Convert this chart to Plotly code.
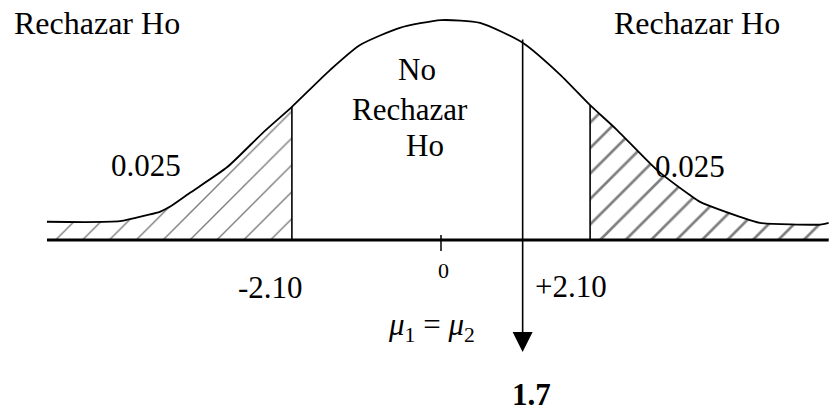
import plotly.graph_objects as go

# ---------------- data ----------------
# schematic bell curve: z position and relative density (as drawn)
curve_z = [-5.55, -4.52, -4.14, -3.96, -3.82, -3.54, -3.01, -2.51, -2.10, -1.56,
           -1.14, -0.58, 0.00, 0.55, 1.15, 1.68, 2.10, 2.48, 3.04, 3.51,
           3.65, 4.21, 4.49, 5.34, 5.46]
curve_d = [0.033, 0.034, 0.045, 0.051, 0.060, 0.085, 0.132, 0.194, 0.241, 0.308,
           0.353, 0.384, 0.398, 0.393, 0.357, 0.299, 0.244, 0.199, 0.127, 0.081,
           0.069, 0.042, 0.031, 0.028, 0.031]
crit_values = [-2.10, 2.10]
crit_labels = ["-2.10", "+2.10"]
tail_alpha = ["0.025", "0.025"]
center_label = "0"
stat_label = "1.7"
stat_drawn_z = 1.15          # where the statistic arrow is drawn (schematic)
region_labels = ["Rechazar Ho", "Rechazar Ho"]
accept_lines = ["No", "Rechazar", "Ho"]
hyp_label = "<i>μ</i><sub>1</sub> = <i>μ</i><sub>2</sub>"

# ---------------- geometry helpers (pixel <-> data) ----------------
W, H = 829, 411
PX0, PXU = 441.0, 71.0       # pixel of z=0, pixels per z unit
PY0, PYU = 240.0, 552.5      # pixel of d=0, pixels per density unit


def zx(px):
    return (px - PX0) / PXU


def dy(py):
    return (PY0 - py) / PYU


FONT = "Liberation Serif, Times New Roman, serif"
fig = go.Figure()

# left tail hatch (faint, dotted look)
lz = [z for z in curve_z if z <= crit_values[0]]
ld = [d for z, d in zip(curve_z, curve_d) if z <= crit_values[0]]
fig.add_trace(go.Scatter(
    x=lz, y=ld, mode="lines", line=dict(width=0, shape="spline", smoothing=0.6),
    fill="tozeroy", fillcolor="rgba(0,0,0,0)",
    fillpattern=dict(shape="/", size=19, solidity=0.07, fgcolor="#555555",
                     bgcolor="rgba(0,0,0,0)", fgopacity=0.8),
    hoverinfo="skip", showlegend=False))

# right tail hatch
rz = [z for z in curve_z if z >= crit_values[1]]
rd = [d for z, d in zip(curve_z, curve_d) if z >= crit_values[1]]
fig.add_trace(go.Scatter(
    x=rz, y=rd, mode="lines", line=dict(width=0, shape="spline", smoothing=0.6),
    fill="tozeroy", fillcolor="rgba(0,0,0,0)",
    fillpattern=dict(shape="/", size=18, solidity=0.15, fgcolor="black",
                     bgcolor="rgba(0,0,0,0)"),
    hoverinfo="skip", showlegend=False))

# the curve
fig.add_trace(go.Scatter(
    x=curve_z, y=curve_d, mode="lines",
    line=dict(color="black", width=1.8, shape="spline", smoothing=0.6),
    hoverinfo="skip", showlegend=False))

# baseline
fig.add_trace(go.Scatter(
    x=[curve_z[0], curve_z[-1]], y=[0, 0], mode="lines",
    line=dict(color="black", width=3), hoverinfo="skip", showlegend=False))

# critical value lines
for c in crit_values:
    fig.add_trace(go.Scatter(
        x=[c, c], y=[0, curve_d[curve_z.index(c)]], mode="lines",
        line=dict(color="black", width=1.6), hoverinfo="skip", showlegend=False))

# centre tick
fig.add_trace(go.Scatter(
    x=[0, 0], y=[dy(235), dy(251)], mode="lines",
    line=dict(color="black", width=1.5), hoverinfo="skip", showlegend=False))

# statistic arrow
fig.add_annotation(x=stat_drawn_z, y=dy(352), ax=stat_drawn_z, ay=dy(38),
                   xref="x", yref="y", axref="x", ayref="y", text="",
                   showarrow=True, arrowhead=2, arrowwidth=1.6,
                   arrowsize=2.5, arrowcolor="black", standoff=0)


def label(text, px, py, size=31, bold=False):
    if bold:
        text = "<b>" + text + "</b>"
    fig.add_annotation(x=zx(px), y=dy(py), xref="x", yref="y", text=text,
                       showarrow=False, xanchor="center", yanchor="middle",
                       font=dict(family=FONT, size=size, color="black"))


label(region_labels[0], 97, 23, size=32)
label(region_labels[1], 697, 23, size=32)
label(accept_lines[0], 417, 69)
label(accept_lines[1], 410, 109)
label(accept_lines[2], 425, 145)
label(tail_alpha[0], 146, 165)
label(tail_alpha[1], 690, 166)
label(crit_labels[0], 270, 287)
label(crit_labels[1], 571, 286)
label(center_label, 443, 270, size=22)
label(hyp_label, 431, 327, size=31)
label(stat_label, 531, 394, size=31, bold=True)

fig.update_layout(
    width=W, height=H, margin=dict(l=0, r=0, t=0, b=0),
    paper_bgcolor="white", plot_bgcolor="white",
    xaxis=dict(range=[zx(0), zx(W)], visible=False, fixedrange=True),
    yaxis=dict(range=[dy(H), dy(0)], visible=False, fixedrange=True),
    showlegend=False)

fig.write_html("out.html", config={"displayModeBar": False},
               post_script="document.body.style.margin='0';"
                           "document.body.style.overflow='hidden';")
